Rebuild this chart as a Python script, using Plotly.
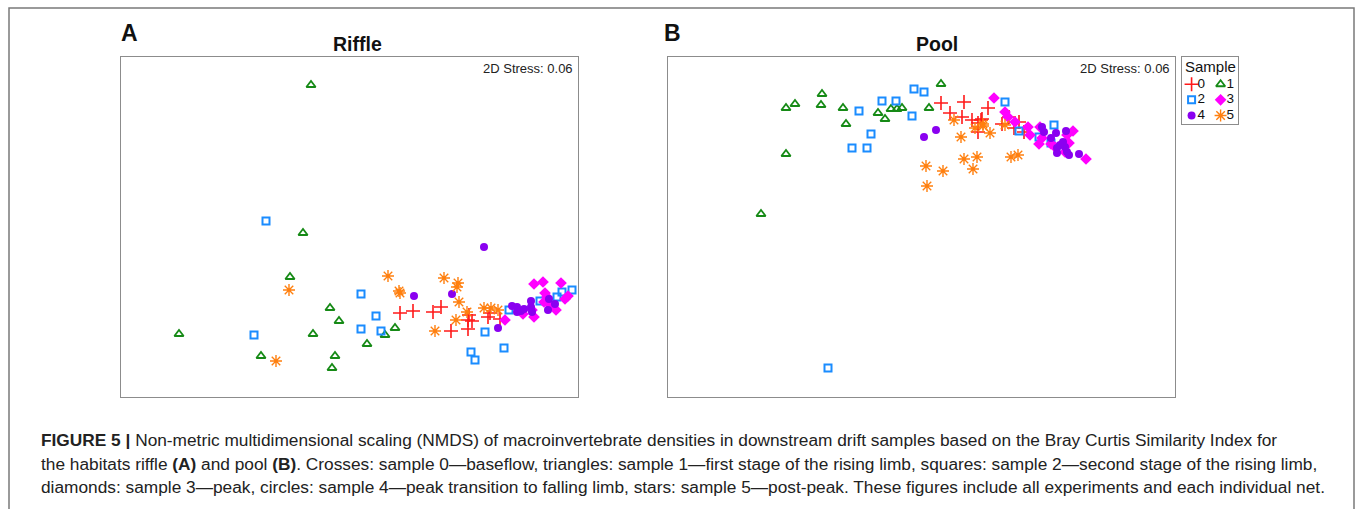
import plotly.graph_objects as go

W, H = 1355, 509

# ---- Data (NMDS coordinates, arbitrary units) ----
samples = ["0", "1", "2", "3", "4", "5"]

# Panel A: Riffle
riffle_x = {
    "0": [279, 292, 312, 320, 330, 347, 348, 347, 351, 367, 369, 379],
    "1": [190, 182, 169, 58, 140, 192, 209, 218, 214, 211, 246, 264, 274],
    "2": [145, 133, 240, 255, 240, 260, 364, 350, 354, 383, 388, 419, 436, 441, 451],
    "3": [413, 422, 440, 424, 426, 423, 429, 411, 413, 402, 384, 435, 444, 447],
    "4": [363, 293, 331, 377, 391, 396, 396, 403, 400, 410, 410, 411, 427, 428, 434],
    "5": [168, 155, 267, 278, 279, 323, 337, 336, 338, 346, 335, 314, 363, 370, 377],
}
riffle_y = {
    "0": [84, 86, 85, 90, 66, 68, 82, 77, 76, 80, 84, 78],
    "1": [312, 164, 120, 63, 41, 63, 89, 76, 41, 29, 53, 62, 69],
    "2": [176, 62, 103, 81, 68, 66, 65, 45, 37, 49, 87, 96, 100, 105, 107],
    "3": [113, 115, 114, 104, 100, 95, 92, 87, 80, 83, 77, 87, 98, 101],
    "4": [150, 101, 103, 69, 91, 90, 85, 88, 86, 96, 90, 85, 87, 98, 93],
    "5": [107, 36, 121, 106, 104, 119, 114, 110, 95, 85, 77, 66, 89, 89, 87],
}

# Panel B: Pool
pool_x = {
    "0": [273, 296, 320, 282, 294, 304, 313, 310, 310, 314, 334, 341, 346, 351, 356],
    "1": [93, 118, 118, 127, 154, 153, 175, 178, 210, 217, 223, 229, 234, 261, 273],
    "2": [160, 191, 214, 228, 246, 256, 244, 203, 184, 199, 337, 351, 386, 371, 383],
    "3": [326, 337, 340, 347, 360, 362, 372, 371, 374, 383, 387, 399, 405, 401, 418, 397],
    "4": [256, 268, 374, 376, 388, 398, 383, 389, 395, 397, 399, 401, 411, 392, 389],
    "5": [286, 293, 307, 315, 315, 322, 337, 258, 275, 259, 296, 309, 305, 343, 350],
}
pool_y = {
    "0": [294, 295, 289, 284, 280, 277, 277, 274, 265, 278, 273, 280, 269, 275, 265],
    "1": [183, 243, 289, 293, 303, 292, 289, 273, 284, 278, 288, 288, 289, 289, 313],
    "2": [29, 286, 296, 296, 308, 305, 281, 263, 249, 249, 295, 266, 272, 260, 254],
    "3": [299, 285, 280, 275, 270, 262, 270, 253, 259, 253, 250, 262, 266, 254, 238, 245],
    "4": [260, 267, 270, 265, 264, 266, 259, 249, 255, 250, 245, 242, 243, 252, 244],
    "5": [277, 260, 269, 273, 271, 264, 272, 231, 226, 211, 238, 240, 228, 240, 242],
}

riffle_range_x = [0, 457]
pool_range_x = [0, 507]
range_y = [0, 340]

stress_text = "2D Stress: 0.06"
panel_titles = ["Riffle", "Pool"]
panel_letters = ["A", "B"]
legend_title = "Sample"

caption_lines = [
    "<b>FIGURE 5 |</b> Non-metric multidimensional scaling (NMDS) of macroinvertebrate densities in downstream drift samples based on the Bray Curtis Similarity Index for",
    "the habitats riffle <b>(A)</b> and pool <b>(B)</b>. Crosses: sample 0\u2014baseflow, triangles: sample 1\u2014first stage of the rising limb, squares: sample 2\u2014second stage of the rising limb,",
    "diamonds: sample 3\u2014peak, circles: sample 4\u2014peak transition to falling limb, stars: sample 5\u2014post-peak. These figures include all experiments and each individual net.",
]

# ---- Styles ----
style = {
    "0": dict(symbol="cross-thin-open", color="#ff1a1a", size=10, lw=1.6),
    "1": dict(symbol="triangle-up-open", color="#168a16", size=8, lw=1.8),
    "2": dict(symbol="square-open", color="#1a8cff", size=7, lw=2.0),
    "3": dict(symbol="diamond", color="#ff00ff", size=9, lw=0),
    "4": dict(symbol="circle", color="#8a00f0", size=8, lw=0),
    "5": dict(symbol="asterisk-open", color="#ff7f0e", size=10, lw=1.4),
}


def px_x(p):
    return p / W


def px_y(p):
    return 1 - p / H


fig = go.Figure()


def add_panel(xd, yd, xa, ya):
    for s in samples:
        st = style[s]
        fig.add_trace(go.Scatter(
            x=xd[s], y=yd[s], mode="markers", xaxis=xa, yaxis=ya,
            showlegend=False, hoverinfo="skip",
            marker=dict(symbol=st["symbol"], size=st["size"], color=st["color"],
                        line=dict(width=st["lw"], color=st["color"])),
        ))


add_panel(riffle_x, riffle_y, "x", "y")
add_panel(pool_x, pool_y, "x2", "y2")

# Legend drawn in its own small axes
leg_col = [0, 1, 0, 1, 0, 1]
leg_row = [0, 0, 1, 1, 2, 2]
for i, s in enumerate(samples):
    st = style[s]
    fig.add_trace(go.Scatter(
        x=[leg_col[i]], y=[leg_row[i]], mode="markers", xaxis="x3", yaxis="y3",
        showlegend=False, hoverinfo="skip",
        marker=dict(symbol=st["symbol"], size=st["size"], color=st["color"],
                    line=dict(width=st["lw"], color=st["color"])),
    ))
fig.add_trace(go.Scatter(
    x=[c + 0.2 for c in leg_col], y=leg_row, mode="text", text=samples,
    textposition="middle right", xaxis="x3", yaxis="y3",
    textfont=dict(family="Arial, Liberation Sans", size=13.5, color="#111"),
    showlegend=False, hoverinfo="skip",
))

box_axis = dict(showgrid=False, zeroline=False, showticklabels=False, ticks="",
                showline=True, mirror=True, linecolor="#8c8c8c", linewidth=1,
                fixedrange=True)

fig.update_layout(
    width=W, height=H,
    margin=dict(l=0, r=0, t=0, b=0),
    paper_bgcolor="white", plot_bgcolor="white",
    xaxis=dict(domain=[px_x(121), px_x(578)], range=riffle_range_x, anchor="y", **box_axis),
    yaxis=dict(domain=[px_y(397), px_y(57)], range=range_y, anchor="x", **box_axis),
    xaxis2=dict(domain=[px_x(668), px_x(1175)], range=pool_range_x, anchor="y2", **box_axis),
    yaxis2=dict(domain=[px_y(397), px_y(57)], range=range_y, anchor="x2", **box_axis),
    xaxis3=dict(domain=[px_x(1182), px_x(1238)], range=[-0.33, 1.6], anchor="y3", **box_axis),
    yaxis3=dict(domain=[px_y(124), px_y(57)], range=[2.55, -1.75], anchor="x3", **box_axis),
    font=dict(family="Arial, Liberation Sans, sans-serif"),
)

ann = []
# stress labels
for xr in [575, 1172]:
    ann.append(dict(x=px_x(xr), y=px_y(68), xref="paper", yref="paper", text=stress_text,
                    showarrow=False, xanchor="right", yanchor="middle",
                    font=dict(size=13, color="#222")))
# panel titles
for xc, t in zip([358, 937], panel_titles):
    ann.append(dict(x=px_x(xc), y=px_y(44), xref="paper", yref="paper", text="<b>%s</b>" % t,
                    showarrow=False, xanchor="center", yanchor="middle",
                    font=dict(size=19.5, color="#111")))
# panel letters
for xl, t in zip([119, 662], panel_letters):
    ann.append(dict(x=px_x(xl), y=px_y(33), xref="paper", yref="paper", text="<b>%s</b>" % t,
                    showarrow=False, xanchor="left", yanchor="middle",
                    font=dict(size=23, color="#111")))
# legend title
ann.append(dict(x=px_x(1210), y=px_y(67), xref="paper", yref="paper", text=legend_title,
                showarrow=False, xanchor="center", yanchor="middle",
                font=dict(size=15, color="#111")))
# caption
for yy, line in zip([440, 463.5, 487], caption_lines):
    ann.append(dict(x=px_x(39), y=px_y(yy), xref="paper", yref="paper", text=line,
                    showarrow=False, xanchor="left", yanchor="middle",
                    font=dict(family="Liberation Sans, Arial", size=17.3, color="#222")))
fig.update_layout(annotations=ann)

# outer frame
fig.add_shape(type="rect", xref="paper", yref="paper",
              x0=px_x(9), x1=px_x(1354), y0=px_y(530), y1=px_y(8),
              line=dict(color="#7a7a7a", width=1.5), fillcolor="rgba(0,0,0,0)", layer="below")

fig.write_html("out.html", config={"displayModeBar": False},
               post_script="document.body.style.margin='0';document.body.style.padding='0';")
